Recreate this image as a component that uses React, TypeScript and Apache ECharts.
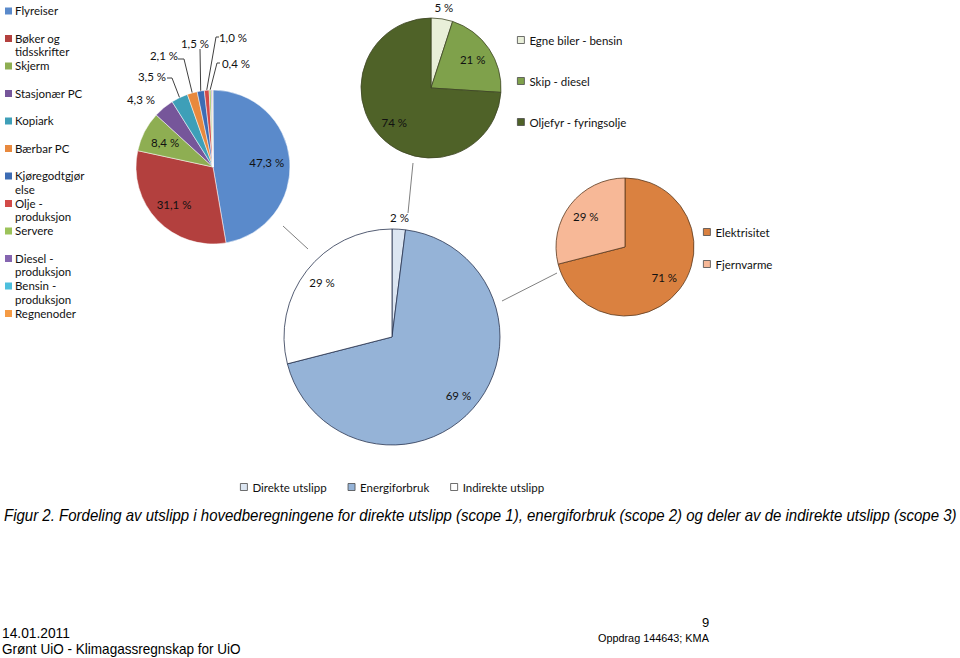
import React, { useEffect, useRef } from "react";
import * as echarts from "echarts";

// ---------- data ----------
const leftNames = [
  "Flyreiser", "Bøker og tidsskrifter", "Skjerm", "Stasjonær PC", "Kopiark", "Bærbar PC",
  "Kjøregodtgjørelse", "Olje - produksjon", "Servere", "Diesel - produksjon", "Bensin - produksjon", "Regnenoder",
];
const leftLegendLabels = [
  "Flyreiser", "Bøker og\ntidsskrifter", "Skjerm", "Stasjonær PC", "Kopiark", "Bærbar PC",
  "Kjøregodtgjør\nelse", "Olje -\nproduksjon", "Servere", "Diesel -\nproduksjon", "Bensin -\nproduksjon", "Regnenoder",
];
const leftValues = [47.3, 31.1, 8.4, 4.3, 3.5, 2.1, 1.5, 1.0, 0.4, 0.2, 0.1, 0.1];
const leftLabelled = 9; // only first nine slices carry labels

const topNames = ["Egne biler - bensin", "Skip - diesel", "Oljefyr - fyringsolje"];
const topValues = [5, 21, 74];

const rightNames = ["Elektrisitet", "Fjernvarme"];
const rightValues = [71, 29];

const mainNames = ["Direkte utslipp", "Energiforbruk", "Indirekte utslipp"];
const mainValues = [2, 69, 29];

const captionText =
  "Figur 2. Fordeling av utslipp i hovedberegningene for direkte utslipp (scope 1), energiforbruk (scope 2) og deler av de indirekte utslipp (scope 3)";
const footerDate = "14.01.2011";
const footerTitle = "Grønt UiO - Klimagassregnskap for UiO";
const footerPage = "9";
const footerJob = "Oppdrag 144643; KMA";

// ---------- styles / layout ----------
const leftColors = [
  "#5A8ACB", "#B3403E", "#8EAE52", "#76569A", "#3E9FB8", "#E8893E",
  "#3D6CB4", "#D24A48", "#9CC35A", "#8565B0", "#4DBFDD", "#F59B45",
];
const topColors = ["#E9EFD9", "#7FA14B", "#4F6228"];
const rightColors = ["#DA8140", "#F7B897"];
const mainColors = ["#DCE6F2", "#95B3D7", "#FFFFFF"];

const FONT = "Lato";
const FS = 11.5;
const LEFT = { c: [213, 167], r: 77, ratio: 0.7 };
const TOP = { c: [431, 88], r: 70, ratio: 0.72 };
const RIGHT = { c: [625, 247], r: 69, ratio: 0.72 };
const MAIN = { c: [392, 337], r: 108, ratio: 0.82 };

type Pt = [number, number];
const LEFT_CALLOUTS: Record<number, { at: Pt; line?: Pt[] }> = {
  3: { at: [141, 99] },
  4: { at: [152, 76], line: [[172, 78], [167, 78]] },
  5: { at: [164, 55], line: [[184, 59], [178, 59]] },
  6: { at: [195, 43], line: [[200, 49], [200, 49]] },
  7: { at: [233, 37], line: [[216, 37], [219, 37]] },
  8: { at: [236, 63], line: [[217, 63], [220, 63]] },
};

function measure(text: string, font: string): number {
  const cv = document.createElement("canvas");
  const ctx = cv.getContext("2d")!;
  ctx.font = font;
  return ctx.measureText(text).width;
}

function makeLayout(values: number[], geo: { c: number[]; r: number; ratio: number }, callouts?: Record<number, { at: Pt; line?: Pt[] }>) {
  const total = values.reduce((a, b) => a + b, 0);
  const mids: number[] = [];
  let acc = 0;
  values.forEach((v) => {
    mids.push(((acc + v / 2) / total) * Math.PI * 2);
    acc += v;
  });
  return (p: any) => {
    const i = p.dataIndex;
    const a = mids[i];
    const pt = (rr: number): Pt => [geo.c[0] + rr * Math.sin(a), geo.c[1] - rr * Math.cos(a)];
    const co = callouts && callouts[i];
    if (co) {
      const res: any = { x: co.at[0], y: co.at[1], align: "center", verticalAlign: "middle" };
      if (co.line) res.labelLinePoints = [pt(geo.r), ...co.line];
      return res;
    }
    const [x, y] = values[i] >= 8 ? pt(geo.r * geo.ratio) : pt(geo.r + 12);
    return { x, y, align: "center", verticalAlign: "middle" };
  };
}

const pctInt = (p: any) => `${p.value} %`;
const pctDec = (p: any) => `${Number(p.value).toFixed(1).replace(".", ",")} %`;

export default function App() {
  const ref = useRef<HTMLDivElement>(null);

  useEffect(() => {
    if (!ref.current) return;
    const chart = echarts.init(ref.current, undefined, { renderer: "svg" });

    const labelBase = { show: true, position: "outside", fontFamily: FONT, fontSize: FS, color: "#111" };

    const leftData = leftNames.map((name, i) => ({
      name,
      value: leftValues[i],
      itemStyle: { color: leftColors[i] },
      label: { show: i < leftLabelled },
      labelLine: { show: !!(LEFT_CALLOUTS[i] && LEFT_CALLOUTS[i].line) },
    }));
    const mk = (names: string[], vals: number[], cols: string[]) =>
      names.map((name, i) => ({ name, value: vals[i], itemStyle: { color: cols[i] } }));

    // left legend drawn as graphic (uniform slot spacing, wrapped names)
    const legendGraphics: any[] = [];
    leftLegendLabels.forEach((txt, i) => {
      const y = 11 + i * 27.5;
      legendGraphics.push({
        type: "rect", shape: { x: 5, y: y - 3.5, width: 7, height: 7 },
        style: { fill: leftColors[i] }, silent: true,
      });
      legendGraphics.push({
        type: "text", x: 15, y: y - 7,
        style: { text: txt, fontFamily: FONT, fontSize: FS, lineHeight: 13.5, fill: "#111", verticalAlign: "top" },
        silent: true,
      });
    });

    const capFont = "italic 16px 'Liberation Sans'";
    const capScale = 954 / measure(captionText, capFont);
    const ftFont = "14px 'Liberation Sans'";
    const dateScale = 68 / measure(footerDate, ftFont);
    const titleScale = 239 / measure(footerTitle, ftFont);
    const jobFont = "10px 'Liberation Sans'";
    const jobScale = 111 / measure(footerJob, jobFont);

    const txt = (text: string, x: number, y: number, size: number, scaleX: number, italic = false) => ({
      type: "text", x, y, scaleX, silent: true,
      style: { text, fontFamily: "Liberation Sans", fontSize: size, fontStyle: italic ? "italic" : "normal", fill: "#000", verticalAlign: "middle", align: "left" },
    });

    const lineEl = (a: Pt, b: Pt) => ({
      type: "line", silent: true,
      shape: { x1: a[0], y1: a[1], x2: b[0], y2: b[1] },
      style: { stroke: "#808080", lineWidth: 1 },
    });

    const legendCommon = {
      icon: "rect", itemWidth: 7, itemHeight: 7, padding: 0, selectedMode: false,
      itemStyle: { borderColor: "#4a4a4a", borderWidth: 0.8 },
      textStyle: { fontFamily: FONT, fontSize: FS, color: "#111", lineHeight: 12 },
    };

    chart.setOption({
      animation: false,
      backgroundColor: "#ffffff",
      legend: [
        { ...legendCommon, data: topNames, orient: "vertical", left: 517, top: 34, itemGap: 29 },
        { ...legendCommon, data: rightNames, orient: "vertical", left: 703, top: 226, itemGap: 20 },
        { ...legendCommon, data: mainNames, orient: "horizontal", left: 240, top: 481, itemGap: 21 },
      ],
      series: [
        {
          type: "pie", name: "left", center: LEFT.c, radius: LEFT.r, startAngle: 90, silent: true,
          data: leftData,
          itemStyle: { borderColor: "#ffffff", borderWidth: 0.5 },
          label: { ...labelBase, formatter: pctDec },
          labelLine: { show: false, lineStyle: { color: "#404040", width: 1 } },
          labelLayout: makeLayout(leftValues, LEFT, LEFT_CALLOUTS),
        },
        {
          type: "pie", name: "top", center: TOP.c, radius: TOP.r, startAngle: 90, silent: true,
          data: mk(topNames, topValues, topColors),
          itemStyle: { borderColor: "#3d4525", borderWidth: 0.8 },
          label: { ...labelBase, formatter: pctInt },
          labelLine: { show: false },
          labelLayout: makeLayout(topValues, TOP),
        },
        {
          type: "pie", name: "right", center: RIGHT.c, radius: RIGHT.r, startAngle: 90, silent: true,
          data: mk(rightNames, rightValues, rightColors),
          itemStyle: { borderColor: "#5a3a20", borderWidth: 0.8 },
          label: { ...labelBase, formatter: pctInt },
          labelLine: { show: false },
          labelLayout: makeLayout(rightValues, RIGHT),
        },
        {
          type: "pie", name: "main", center: MAIN.c, radius: MAIN.r, startAngle: 90, silent: true,
          data: mk(mainNames, mainValues, mainColors),
          itemStyle: { borderColor: "#2a3550", borderWidth: 0.8 },
          label: { ...labelBase, formatter: pctInt },
          labelLine: { show: false },
          labelLayout: makeLayout(mainValues, MAIN),
        },
      ],
      graphic: [
        lineEl([283, 226], [308, 249]),
        lineEl([413, 163], [408, 213]),
        lineEl([557, 273], [502, 301]),
        ...legendGraphics,
        txt(captionText, 4, 515, 16, capScale, true),
        txt(footerDate, 2, 633, 14, dateScale),
        txt(footerTitle, 2, 649, 14, titleScale),
        txt(footerPage, 702, 622, 13, 1),
        txt(footerJob, 598, 639, 10, jobScale),
      ],
    });

    return () => chart.dispose();
  }, []);

  return (
    <div
      ref={ref}
      style={{ position: "fixed", left: 0, top: 0, width: 960, height: 658, background: "#fff" }}
    />
  );
}
